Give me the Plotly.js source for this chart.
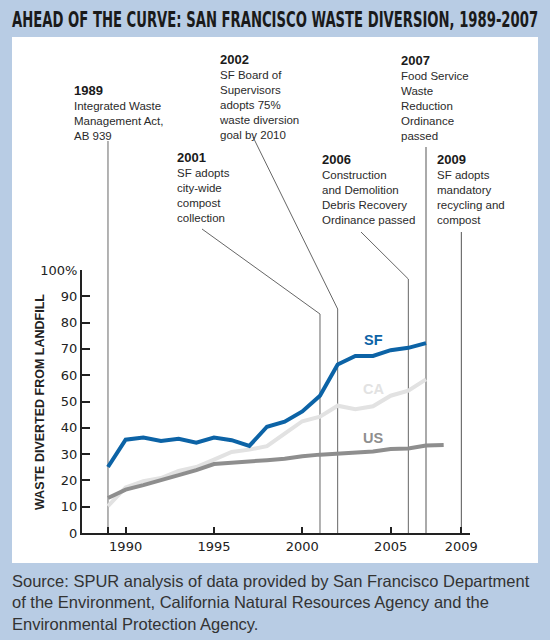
<!DOCTYPE html>
<html>
<head>
<meta charset="utf-8">
<script src="https://cdn.plot.ly/plotly-3.0.1.min.js"></script>
<style>html,body{margin:0;padding:0;background:#b8cce4;}#chart{width:550px;height:640px;}</style>
</head>
<body>
<div id="chart"></div>
<script>
// ---- data ----
const yearsSF = [1989,1990,1991,1992,1993,1994,1995,1996,1997,1998,1999,2000,2001,2002,2003,2004,2005,2006,2007];
const sfValues = [25.1,35.5,36.3,35.0,35.8,34.3,36.3,35.3,33.1,40.4,42.3,46.2,52.2,64.1,67.3,67.3,69.5,70.4,72.2];
const yearsCA = [1989,1990,1991,1992,1993,1994,1995,1996,1997,1998,1999,2000,2001,2002,2003,2004,2005,2006,2007];
const caValues = [10.2,17.3,19.7,20.9,23.6,25.1,27.9,30.8,31.7,33.0,37.8,42.5,44.2,48.4,47.1,48.2,52.2,54.1,58.4];
const yearsUS = [1989,1990,1991,1992,1993,1994,1995,1996,1997,1998,1999,2000,2001,2002,2003,2004,2005,2006,2007,2008];
const usValues = [13.3,16.5,18.2,20.1,22.0,23.9,26.2,26.8,27.3,27.7,28.2,29.2,29.8,30.2,30.6,31.0,31.9,32.1,33.3,33.5];
const seriesNames = ['SF','CA','US'];

const xTickVals = [1989,1990,1995,2000,2005,2009];
const xTickText = ['','1990','1995','2000','2005','2009'];
const yTickVals = [0,10,20,30,40,50,60,70,80,90,100];
const yTickText = ['0','10','20','30','40','50','60','70','80','90','100%'];

const eventYears = [1989,2001,2002,2006,2007,2009];
const eventTexts = [
  ['Integrated Waste','Management Act,','AB 939'],
  ['SF adopts','city-wide','compost','collection'],
  ['SF Board of','Supervisors','adopts 75%','waste diversion','goal by 2010'],
  ['Construction','and Demolition','Debris Recovery','Ordinance passed'],
  ['Food Service','Waste','Reduction','Ordinance','passed'],
  ['SF adopts','mandatory','recycling and','compost']
];

const titleText = 'AHEAD OF THE CURVE: SAN FRANCISCO WASTE DIVERSION, 1989-2007';
const yTitleText = 'WASTE DIVERTED FROM LANDFILL';
const sourceText = 'Source: SPUR analysis of data provided by San Francisco Department<br>of the Environment, California Natural Resources Agency and the<br>Environmental Protection Agency.';

// ---- layout geometry (pixels) ----
const W = 550, H = 640;
const M = {l: 82, r: 80, t: 270, b: 107};
const plotW = W - M.l - M.r, plotH = H - M.t - M.b;
const xRange = [1987.53, 2009.49];
const pxP = px => (px - M.l) / plotW;
const pyP = py => (H - M.b - py) / plotH;
const px2x = px => xRange[0] + (px - M.l) / plotW * (xRange[1] - xRange[0]);

const evLayout = [
  {left: 73, top: 82, lineTop: 141, diag: null, color: '#9a9a9a', width: 1.5},
  {left: 176, top: 149, lineTop: 314, diag: [202, 229], color: '#666', width: 1},
  {left: 218, top: 51, lineTop: 309, diag: [253, 137], color: '#666', width: 1},
  {left: 321, top: 151, lineTop: 279, diag: [361, 232], color: '#666', width: 1},
  {left: 400, top: 52, lineTop: 147, diag: null, color: '#aaaaaa', width: 2},
  {left: 436, top: 151, lineTop: 232, diag: null, color: '#555', width: 1}
];

const colors = {SF: '#0c63a6', CA: '#e2e2e2', US: '#8e8e8e'};

const traces = [
  {x: yearsCA, y: caValues, name: 'CA', type: 'scatter', mode: 'lines', line: {color: colors.CA, width: 4}},
  {x: yearsUS, y: usValues, name: 'US', type: 'scatter', mode: 'lines', line: {color: colors.US, width: 4}},
  {x: yearsSF, y: sfValues, name: 'SF', type: 'scatter', mode: 'lines', line: {color: colors.SF, width: 4}}
];

const shapes = [
  {type: 'rect', xref: 'paper', yref: 'paper', x0: pxP(12), x1: pxP(538), y0: pyP(563), y1: pyP(37),
   fillcolor: '#ffffff', line: {width: 0}, layer: 'below'}
];
const annotations = [];

eventYears.forEach((yr, i) => {
  const L = evLayout[i];
  shapes.push({type: 'line', xref: 'x', yref: 'paper', x0: yr, x1: yr, y0: 0, y1: pyP(L.lineTop),
    line: {color: L.color, width: L.width}, layer: 'below'});
  if (L.diag) {
    shapes.push({type: 'line', xref: 'x', yref: 'paper', x0: yr, x1: px2x(L.diag[0]),
      y0: pyP(L.lineTop), y1: pyP(L.diag[1]), line: {color: L.color, width: L.width}, layer: 'below'});
  }
  annotations.push({xref: 'paper', yref: 'paper', x: pxP(L.left), y: pyP(L.top), xanchor: 'left', yanchor: 'top',
    align: 'left', showarrow: false, borderpad: 0,
    text: '<b><span style="font-size:13px;color:#1a1a1a">' + yr + '</span></b><br>' + eventTexts[i].join('<br>'),
    font: {family: 'Liberation Sans, Arial, sans-serif', size: 11.5, color: '#2a2a2a'}});
});

// series labels
const labelYear = 2004;
const seriesData = {SF: [yearsSF, sfValues], CA: [yearsCA, caValues], US: [yearsUS, usValues]};
const labelShift = {SF: 16, CA: 17, US: 13};
seriesNames.forEach(n => {
  const [xs, ys] = seriesData[n];
  const idx = xs.indexOf(labelYear);
  annotations.push({x: xs[idx], y: ys[idx], xref: 'x', yref: 'y', yshift: labelShift[n], showarrow: false,
    xanchor: 'center', yanchor: 'middle', text: '<b>' + n + '</b>',
    font: {family: 'Liberation Sans, Arial, sans-serif', size: 14.5, color: colors[n]}});
});

annotations.push({xref: 'paper', yref: 'paper', x: pxP(275), y: pyP(20), xanchor: 'center', yanchor: 'middle',
  showarrow: false, text: titleText,
  font: {family: 'DejaVu Sans Condensed, Liberation Sans Narrow, sans-serif', size: 15, weight: 'bold', color: '#1a1a1a'}});

annotations.push({xref: 'paper', yref: 'paper', x: pxP(40), y: pyP(402), xanchor: 'center', yanchor: 'middle',
  textangle: -90, showarrow: false, text: '<b>' + yTitleText + '</b>',
  font: {family: 'Liberation Sans, Arial, sans-serif', size: 12.5, color: '#222'}});

annotations.push({xref: 'paper', yref: 'paper', x: pxP(11), y: pyP(571), xanchor: 'left', yanchor: 'top',
  align: 'left', showarrow: false, borderpad: 0, text: sourceText,
  font: {family: 'Liberation Sans, Arial, sans-serif', size: 16.5, color: '#333'}});

const layout = {
  width: W, height: H,
  margin: M,
  paper_bgcolor: '#b8cce4',
  plot_bgcolor: 'rgba(0,0,0,0)',
  showlegend: false,
  xaxis: {range: xRange, tickvals: xTickVals, ticktext: xTickText, ticks: 'inside', ticklen: 6, tickwidth: 2,
    tickcolor: '#222', showline: true, linewidth: 2, linecolor: '#222', showgrid: false, zeroline: false,
    tickfont: {family: 'DejaVu Sans, Verdana, sans-serif', size: 13, color: '#222'}, fixedrange: true},
  yaxis: {range: [0, 100], tickvals: yTickVals, ticktext: yTickText, ticks: 'inside', ticklen: 8, tickwidth: 2,
    tickcolor: '#222', showline: true, linewidth: 2, linecolor: '#222', showgrid: false, zeroline: false,
    tickfont: {family: 'DejaVu Sans, Verdana, sans-serif', size: 13, color: '#222'}, fixedrange: true},
  shapes: shapes,
  annotations: annotations
};

Plotly.newPlot('chart', traces, layout, {displayModeBar: false, staticPlot: true}).then(gd => {
  // stretch the title vertically so it reads like the reference's tall condensed face
  gd.querySelectorAll('.annotation-text').forEach(t => {
    if (t.textContent === titleText) {
      const bb = t.getBBox();
      const cx = bb.x + bb.width / 2, cy = bb.y + bb.height / 2;
      const sx = Math.min(1, 526 / bb.width), sy = 1.4;
      t.setAttribute('transform',
        'translate(' + cx + ',' + cy + ') scale(' + sx + ',' + sy + ') translate(' + (-cx) + ',' + (-cy) + ')');
    }
  });
});
</script>
</body>
</html>
